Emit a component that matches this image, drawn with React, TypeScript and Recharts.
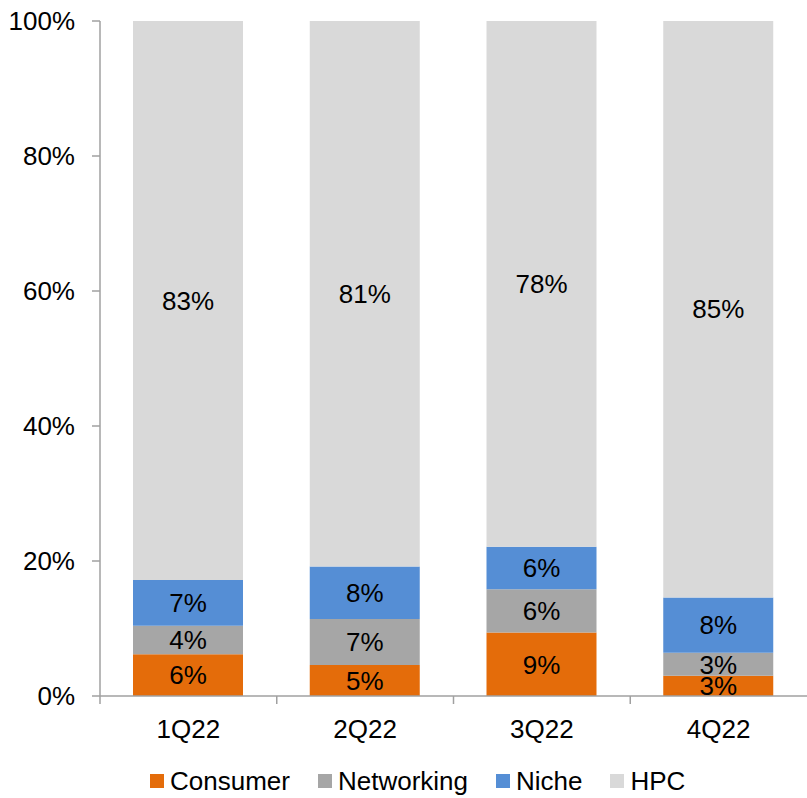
import React from "react";
import {
  Bar,
  BarChart,
  LabelList,
  Legend,
  XAxis,
  YAxis,
} from "recharts";

const quarters = ["1Q22", "2Q22", "3Q22", "4Q22"];
const consumer = [6.2, 4.6, 9.4, 3.0];
const networking = [4.2, 6.8, 6.4, 3.4];
const niche = [6.8, 7.8, 6.3, 8.2];
const hpc = [82.8, 80.8, 77.9, 85.4];
const yTicks = [0, 20, 40, 60, 80, 100];

const series = [
  { key: "Consumer", color: "#E46C0A" },
  { key: "Networking", color: "#A6A6A6" },
  { key: "Niche", color: "#558ED5" },
  { key: "HPC", color: "#D9D9D9" },
];

const data = quarters.map((q, i) => ({
  quarter: q,
  Consumer: consumer[i],
  Networking: networking[i],
  Niche: niche[i],
  HPC: hpc[i],
}));

const W = 807;
const H = 798;
const LEFT = 100;
const AXIS = "#A0A0A0";
const FONT = 26;
const BAND = (W - LEFT) / quarters.length;
const X_MARGIN = 24;

const pct = (v: any) => `${Math.round(Number(v))}%`;

function XTick(props: any) {
  const { x, y, payload } = props;
  const axisY = y - X_MARGIN;
  return (
    <g>
      <line
        x1={x - BAND / 2}
        y1={axisY}
        x2={x - BAND / 2}
        y2={axisY + 8}
        stroke={AXIS}
        strokeWidth={1.5}
      />
      <text
        x={x}
        y={y}
        dy="0.71em"
        textAnchor="middle"
        fontSize={FONT}
        fill="#000"
      >
        {payload.value}
      </text>
    </g>
  );
}

function LegendBox() {
  return (
    <div
      style={{
        display: "flex",
        alignItems: "center",
        height: 34,
        paddingLeft: 150,
        fontSize: FONT,
        color: "#000",
      }}
    >
      {series.map((s) => (
        <div
          key={s.key}
          style={{ display: "flex", alignItems: "center", marginRight: 28 }}
        >
          <span
            style={{
              display: "inline-block",
              width: 14,
              height: 14,
              background: s.color,
              marginRight: 6,
            }}
          />
          <span>{s.key}</span>
        </div>
      ))}
    </div>
  );
}

export default function App() {
  return (
    <div
      style={{
        position: "absolute",
        left: 0,
        top: 0,
        width: W,
        height: H,
        fontFamily: '"Liberation Sans", Arial, sans-serif',
      }}
    >
      <BarChart
        width={W}
        height={H}
        data={data}
        margin={{ top: 21, right: 0, left: 0, bottom: 0 }}
      >
        <XAxis
          dataKey="quarter"
          height={68}
          stroke={AXIS}
          strokeWidth={1.5}
          tickLine={false}
          tickSize={0}
          tickMargin={X_MARGIN}
          tick={<XTick />}
          interval={0}
        />
        <YAxis
          width={LEFT}
          domain={[0, 100]}
          ticks={yTicks}
          tickFormatter={(v) => `${v}%`}
          stroke={AXIS}
          strokeWidth={1.5}
          tickSize={8}
          tickMargin={17}
          tick={{ fill: "#000", fontSize: FONT }}
          allowDataOverflow
        />
        <Legend
          verticalAlign="bottom"
          height={34}
          wrapperStyle={{ left: 0, width: W }}
          content={<LegendBox />}
        />
        {series.map((s) => (
          <Bar
            key={s.key}
            dataKey={s.key}
            stackId="a"
            fill={s.color}
            barSize={110}
            isAnimationActive={false}
          >
            <LabelList
              dataKey={s.key}
              position="center"
              formatter={pct}
              fill="#000"
              stroke="none"
              fontSize={FONT}
            />
          </Bar>
        ))}
      </BarChart>
    </div>
  );
}
